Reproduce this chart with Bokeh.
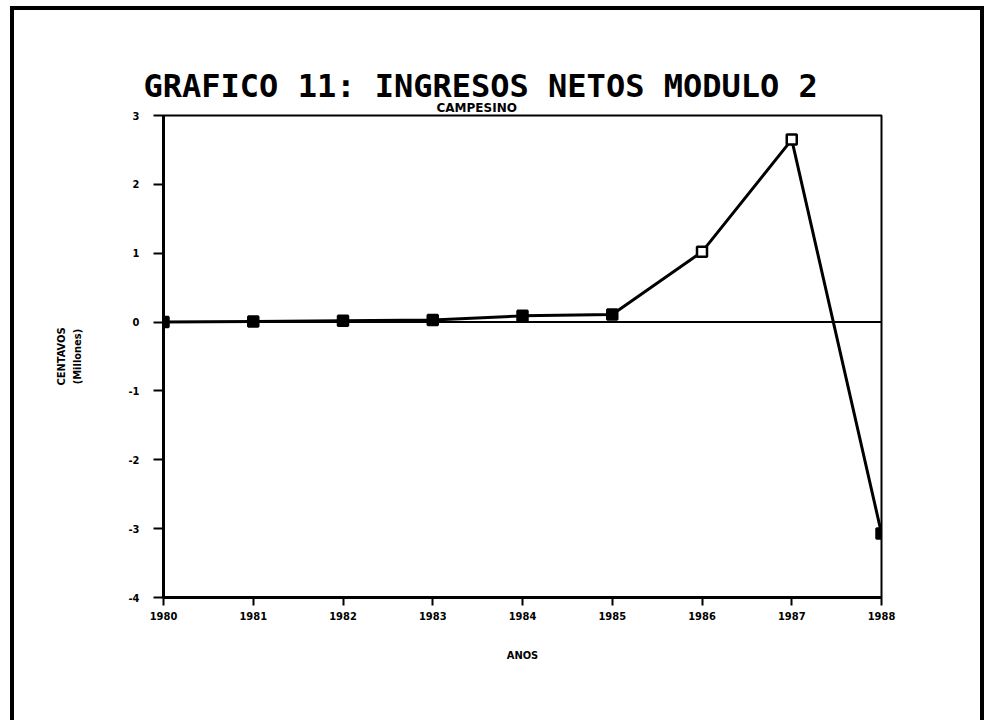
from bokeh.plotting import figure
from bokeh.models import Title, Span, FixedTicker, ColumnDataSource, Range1d
from bokeh.embed import file_html
from bokeh.resources import INLINE

# ---- data ----
years = [1980, 1981, 1982, 1983, 1984, 1985, 1986, 1987, 1988]
ingresos = [0.0, 0.01, 0.02, 0.03, 0.09, 0.11, 1.02, 2.65, -3.07]
y_ticks = [-4, -3, -2, -1, 0, 1, 2, 3]
title_text = "GRAFICO 11: INGRESOS NETOS MODULO 2"
subtitle_text = "CAMPESINO"
x_label = "ANOS"
y_label = "CENTAVOS\n(Millones)"

marker_fill = ["black"] * 6 + ["white", "white", "black"]

src = ColumnDataSource(dict(x=years, y=ingresos, fill=marker_fill))

W, H = 966, 712
FL, FT, FW, FH = 149, 105, 718, 482

p = figure(width=W, height=H, output_backend="svg", toolbar_location=None,
           x_range=Range1d(1980, 1988), y_range=Range1d(-4, 3),
           min_border_left=FL, min_border_top=FT,
           min_border_right=W - FL - FW, min_border_bottom=H - FT - FH,
           frame_width=FW, frame_height=FH,
           title=title_text)

p.styles = {"border": "4px solid black", "margin-left": "10px", "margin-top": "6px"}

tick_font = "DejaVu Sans Condensed"

p.title.text_font = "DejaVu Sans Mono"
p.title.text_font_size = "32px"
p.title.text_font_style = "bold"
p.title.text_color = "black"
p.title.align = "left"
p.title.offset = -20
p.title.standoff = -14

sub = Title(text=subtitle_text, text_font="DejaVu Sans", text_font_size="12px",
            text_font_style="bold", text_color="black", align="left", offset=273, standoff=2)
p.add_layout(sub, "above")

p.grid.visible = False
p.outline_line_color = "black"
p.outline_line_width = 2
p.background_fill_color = "white"
p.border_fill_color = "white"

for ax in (p.xaxis[0], p.yaxis[0]):
    ax.axis_line_width = 3
    ax.axis_line_color = "black"
    ax.major_tick_line_width = 2
    ax.major_tick_line_color = "black"
    ax.major_tick_in = 0
    ax.minor_tick_line_color = None
    ax.major_label_text_font = tick_font
    ax.major_label_text_font_style = "bold"
    ax.major_label_text_font_size = "11px"
    ax.major_label_text_color = "black"
    ax.axis_label_text_font = tick_font
    ax.axis_label_text_font_style = "bold"
    ax.axis_label_text_font_size = "11px"
    ax.axis_label_text_color = "black"

p.xaxis.ticker = FixedTicker(ticks=years)
p.xaxis.major_tick_out = 8
p.xaxis.major_label_standoff = 6
p.xaxis.axis_label = x_label
p.xaxis.axis_label_standoff = 26

p.yaxis.ticker = FixedTicker(ticks=y_ticks)
p.yaxis.major_label_overrides = {t: str(t) for t in y_ticks}
p.yaxis.major_tick_out = 10
p.yaxis.major_label_standoff = 14
p.yaxis.axis_label = y_label
p.yaxis.axis_label_standoff = 42

p.add_layout(Span(location=0, dimension="width", line_color="black", line_width=2))

p.line("x", "y", source=src, line_color="black", line_width=3)
p.scatter("x", "y", source=src, marker="square", size=10,
          line_color="black", line_width=2.5, fill_color="fill")

open("out.html", "w").write(file_html(p, INLINE))
